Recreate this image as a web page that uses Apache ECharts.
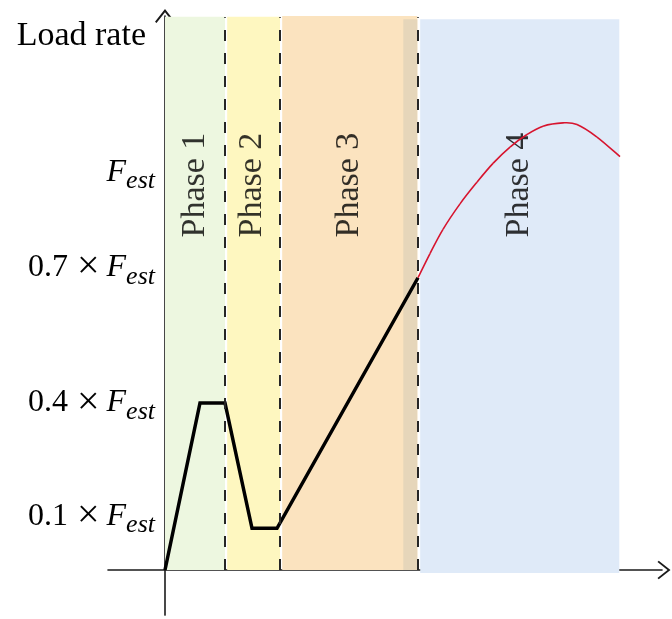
<!DOCTYPE html>
<html>
<head>
<meta charset="utf-8">
<script src="https://cdn.jsdelivr.net/npm/echarts@6/dist/echarts.min.js"></script>
<style>
  html, body { margin: 0; padding: 0; background: #fff; }
  #chart { width: 672px; height: 619px; }
</style>
</head>
<body>
<div id="chart"></div>
<script>
// Prescribed load path (time in arbitrary units, load as a fraction of F_est)
const loadTime  = [0, 3.5, 6, 8.7, 11.2, 25.3];
const loadValue = [0, 0.4, 0.4, 0.1, 0.1, 0.7];

// Measured response during phase 4
const responseTime  = [25.3, 26.5, 27.8, 29.5, 31.2, 32.8, 34.5, 36.2, 37.8, 39.8, 41.2, 43.2, 45.5];
const responseValue = [0.700, 0.758, 0.816, 0.877, 0.929, 0.974, 1.013, 1.043, 1.063, 1.071, 1.067, 1.037, 0.990];

// Phases and their boundaries on the time axis
const phaseNames  = ['Phase 1', 'Phase 2', 'Phase 3', 'Phase 4'];
const phaseBounds = [0, 6, 11.5, 25.3, 45.43];
const transitionStart = 23.83;   // end of phase 3 overlapping with phase 4

// Load-rate ticks
const tickValues  = [0.1, 0.4, 0.7, 1.0];
const tickFactors = ['0.1', '0.4', '0.7', ''];

const SERIF = '"Liberation Serif", "DejaVu Serif", serif';
const INK = '#000';
const bandColors = ['#edf7e0', '#fef7c0', '#fbe3bf', '#dfeaf8'];
const transitionColor = '#e6d6ba';
const bandTop = 1.325;

// vertical nudges of the tick labels (px, positive = down)
const labelShift = [-12, 0, -10, 20];

const rich = {
  n: { fontFamily: SERIF, fontSize: 32, color: INK, lineHeight: 44 },
  x: { fontFamily: SERIF, fontSize: 40, color: INK, lineHeight: 44, padding: [0, 7, 0, 9] },
  f: { fontFamily: SERIF, fontSize: 32, fontStyle: 'italic', color: INK, lineHeight: 44 },
  s: { fontFamily: SERIF, fontSize: 26, fontStyle: 'italic', color: INK, lineHeight: 26, verticalAlign: 'bottom' }
};
labelShift.forEach(function (sh, i) {
  rich['g' + i] = { fontSize: 10, lineHeight: Math.max(2, Math.abs(sh) * 2) };
});

function tickLabel(v) {
  const i = tickValues.findIndex(function (t) { return Math.abs(t - v) < 1e-9; });
  if (i < 0) return '';
  const body = (tickFactors[i] ? '{n|' + tickFactors[i] + '}{x|×}' : '') + '{f|F}{s|est}';
  const sh = labelShift[i];
  if (sh > 0) return '{g' + i + '| }\n' + body;
  if (sh < 0) return body + '\n{g' + i + '| }';
  return body;
}

// open chevron arrow head
const arrow = 'path://M10,0 L20,12.6 L18.5,13.9 L10,3.2 L1.5,13.9 L0,12.6 Z';

const bandData = [];
for (let i = 0; i < 4; i++) {
  const x0 = phaseBounds[i] + (i > 0 ? 0.22 : 0);
  let x1 = phaseBounds[i + 1];
  let top = bandTop;
  let bottom = 0;
  if (i === 2) { x1 = phaseBounds[3] - 0.07; top = 1.327; }
  if (i === 3) { top = 1.319; bottom = -0.007; }
  bandData.push([
    { xAxis: x0, yAxis: bottom, itemStyle: { color: bandColors[i] } },
    { xAxis: x1, yAxis: top }
  ]);
}
bandData.push([
  { xAxis: transitionStart, yAxis: 0, itemStyle: { color: transitionColor } },
  { xAxis: phaseBounds[3] - 0.07, yAxis: 1.319 }
]);

const dividerData = phaseBounds.slice(1, 4).map(function (b) {
  return [{ coord: [b, 0] }, { coord: [b, 1.324] }];
});

// Catmull-Rom segment between response points i and i+1
function responseSegment(params, api) {
  const i = params.dataIndex;
  const n = responseTime.length;
  if (i >= n - 1) return null;
  const pt = function (k) {
    k = Math.max(0, Math.min(n - 1, k));
    return api.coord([responseTime[k], responseValue[k]]);
  };
  const p0 = pt(i - 1), p1 = pt(i), p2 = pt(i + 1), p3 = pt(i + 2);
  return {
    type: 'bezierCurve',
    shape: {
      x1: p1[0], y1: p1[1],
      x2: p2[0], y2: p2[1],
      cpx1: p1[0] + (p2[0] - p0[0]) / 6, cpy1: p1[1] + (p2[1] - p0[1]) / 6,
      cpx2: p2[0] - (p3[0] - p1[0]) / 6, cpy2: p2[1] - (p3[1] - p1[1]) / 6
    },
    style: { stroke: '#d7142e', lineWidth: 1.6, fill: null }
  };
}

const chart = echarts.init(document.getElementById('chart'), null, { renderer: 'canvas' });

chart.setOption({
  animation: false,
  backgroundColor: '#fff',
  grid: {
    left: 108, right: 10, top: 15.98, bottom: 3.91,
    containLabel: false,
    outerBoundsMode: 'none'
  },
  xAxis: {
    type: 'value',
    min: -5.7, max: 49.7,
    axisLine: {
      onZero: true,
      symbol: ['none', arrow],
      symbolSize: [21, 13],
      symbolOffset: [0, 2],
      lineStyle: { color: '#1a1a1a', width: 1.6 }
    },
    axisTick: { show: false },
    axisLabel: { show: false },
    splitLine: { show: false }
  },
  yAxis: {
    type: 'value',
    min: -0.108, max: 1.327,
    name: 'Load rate',
    nameLocation: 'end',
    nameGap: -20,
    nameTextStyle: {
      fontFamily: SERIF, fontSize: 34, color: INK,
      align: 'right', verticalAlign: 'middle', padding: [0, 19, 0, 0]
    },
    axisLine: {
      onZero: true,
      symbol: ['none', arrow],
      symbolSize: [20, 14],
      lineStyle: { color: '#1a1a1a', width: 1.6 }
    },
    axisTick: { show: false },
    splitLine: { show: false },
    axisLabel: {
      customValues: tickValues,
      margin: -47,
      formatter: tickLabel,
      rich: rich
    }
  },
  series: [
    {
      name: 'phases',
      type: 'line',
      data: [],
      z: 1,
      silent: true,
      markArea: { silent: true, data: bandData },
      markLine: {
        silent: true,
        symbol: ['none', 'none'],
        label: { show: false },
        lineStyle: { type: [11, 12], width: 2, color: '#262626' },
        data: dividerData
      }
    },
    {
      name: 'labels',
      type: 'scatter',
      z: 3,
      silent: true,
      symbolSize: 0,
      data: phaseNames.map(function (n, i) {
        return [(phaseBounds[i] + phaseBounds[i + 1]) / 2, 0.922, n];
      }),
      label: {
        show: true,
        position: 'inside',
        rotate: 90,
        formatter: function (p) { return p.value[2]; },
        fontFamily: SERIF, fontSize: 34, color: INK
      }
    },
    {
      name: 'load',
      type: 'line',
      z: 4,
      symbol: 'none',
      clip: false,
      data: loadTime.map(function (t, i) { return [t, loadValue[i]]; }),
      lineStyle: { color: '#000', width: 3.5, join: 'miter' }
    },
    {
      name: 'response',
      type: 'custom',
      z: 5,
      silent: true,
      clip: false,
      renderItem: responseSegment,
      data: responseTime.map(function (t, i) { return [t, responseValue[i]]; })
    }
  ]
});
</script>
</body>
</html>
